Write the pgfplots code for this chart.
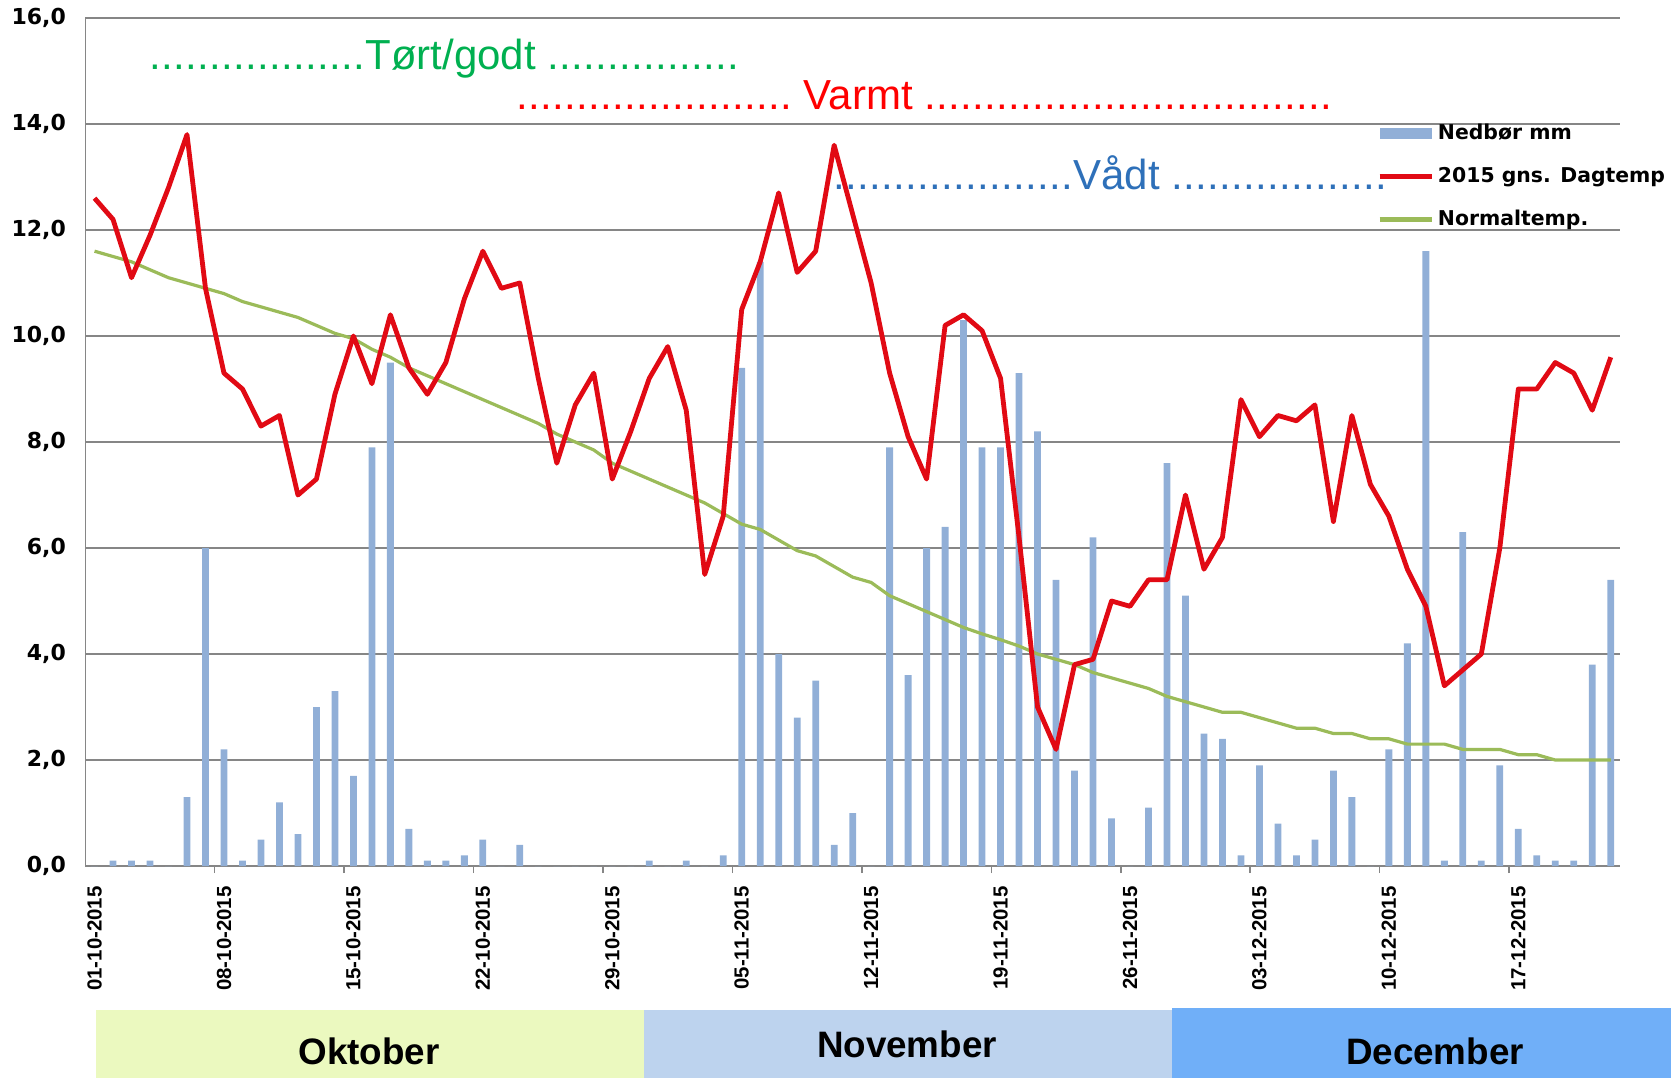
\documentclass[border=0pt]{standalone}
\usepackage{fontspec}
\usepackage{pgfplots}
\usepackage{pgfplotstable}
\pgfplotsset{compat=1.18}
\setmainfont{Liberation Sans}
\newfontfamily\dejavu{DejaVu Sans}
\definecolor{barblue}{RGB}{145,175,215}
\definecolor{tempred}{RGB}{225,10,20}
\definecolor{normgreen}{RGB}{155,187,89}
\definecolor{gridgray}{RGB}{134,134,134}
\definecolor{txtgreen}{RGB}{0,176,80}
\definecolor{txtred}{RGB}{255,0,0}
\definecolor{txtblue}{RGB}{46,112,185}
\definecolor{okt}{RGB}{235,249,191}
\definecolor{nov}{RGB}{189,211,238}
\definecolor{dec}{RGB}{112,175,248}
\newcommand{\dl}[1]{\cleaders\hbox to 6pt{\hss.\hss}\hskip #1\relax}
\pgfplotstableread{
day rain temp norm
0 0 12.6 11.6
1 0.1 12.2 11.5
2 0.1 11.1 11.4
3 0.1 11.9 11.25
4 0 12.8 11.1
5 1.3 13.8 11.0
6 6.0 10.9 10.9
7 2.2 9.3 10.8
8 0.1 9.0 10.65
9 0.5 8.3 10.55
10 1.2 8.5 10.45
11 0.6 7.0 10.35
12 3.0 7.3 10.2
13 3.3 8.9 10.05
14 1.7 10.0 9.95
15 7.9 9.1 9.75
16 9.5 10.4 9.6
17 0.7 9.4 9.4
18 0.1 8.9 9.25
19 0.1 9.5 9.1
20 0.2 10.7 8.95
21 0.5 11.6 8.8
22 0 10.9 8.65
23 0.4 11.0 8.5
24 0 9.2 8.35
25 0 7.6 8.15
26 0 8.7 8.0
27 0 9.3 7.85
28 0 7.3 7.6
29 0 8.2 7.45
30 0.1 9.2 7.3
31 0 9.8 7.15
32 0.1 8.6 7.0
33 0 5.5 6.85
34 0.2 6.6 6.65
35 9.4 10.5 6.45
36 11.4 11.4 6.35
37 4.0 12.7 6.15
38 2.8 11.2 5.95
39 3.5 11.6 5.85
40 0.4 13.6 5.65
41 1.0 12.3 5.45
42 0 11.0 5.35
43 7.9 9.3 5.1
44 3.6 8.1 4.95
45 6.0 7.3 4.8
46 6.4 10.2 4.65
47 10.3 10.4 4.5
48 7.9 10.1 4.38
49 7.9 9.2 4.27
50 9.3 6.2 4.15
51 8.2 3.0 4.0
52 5.4 2.2 3.9
53 1.8 3.8 3.8
54 6.2 3.9 3.65
55 0.9 5.0 3.55
56 0 4.9 3.45
57 1.1 5.4 3.35
58 7.6 5.4 3.2
59 5.1 7.0 3.1
60 2.5 5.6 3.0
61 2.4 6.2 2.9
62 0.2 8.8 2.9
63 1.9 8.1 2.8
64 0.8 8.5 2.7
65 0.2 8.4 2.6
66 0.5 8.7 2.6
67 1.8 6.5 2.5
68 1.3 8.5 2.5
69 0 7.2 2.4
70 2.2 6.6 2.4
71 4.2 5.6 2.3
72 11.6 4.9 2.3
73 0.1 3.4 2.3
74 6.3 3.7 2.2
75 0.1 4.0 2.2
76 1.9 6.0 2.2
77 0.7 9.0 2.1
78 0.2 9.0 2.1
79 0.1 9.5 2.0
80 0.1 9.3 2.0
81 3.8 8.6 2.0
82 5.4 9.6 2.0
}\datatable
\begin{document}
\begin{tikzpicture}
\useasboundingbox (-42.65pt,-106pt) rectangle (792.85pt,433pt);
\begin{axis}[
  at={(0pt,0pt)}, anchor=south west,
  scale only axis, width=767.35pt, height=424pt,
  xmin=-0.5, xmax=82.5, ymin=0, ymax=16,
  axis lines*=left,
  axis line style={gridgray, line width=0.75pt},
  ytick={0,2,...,16},
  ymajorgrids,
  grid style={gridgray, line width=0.75pt},
  tick style={gridgray, line width=0.75pt},
  major tick length=0pt,
  minor tick length=3.5pt,
  tick align=outside,
  xtick={0,7,...,77},
  xticklabels={01-10-2015,08-10-2015,15-10-2015,22-10-2015,29-10-2015,05-11-2015,12-11-2015,19-11-2015,26-11-2015,03-12-2015,10-12-2015,17-12-2015},
  minor xtick={6.5,13.5,...,76.5},
  xticklabel shift=10pt,
  xticklabel style={rotate=90, anchor=east, inner sep=0pt, font=\bfseries\fontsize{10.2}{12}\selectfont},
  yticklabel style={anchor=east, inner sep=0pt, xshift=-9.5pt, font=\dejavu\bfseries\fontsize{11}{13}\selectfont,
    /pgf/number format/.cd, fixed, fixed zerofill, precision=1, use comma, assume math mode=true},
  legend cell align=left,
  legend style={at={(rel axis cs:0.8415,0.88)}, anchor=north west, draw=none, fill=none,
    font=\dejavu\bfseries\fontsize{10.2}{12}\selectfont, row sep=8.3pt, inner sep=0pt},
]
\addplot[ybar, bar width=3.4pt, bar shift=0pt, fill=barblue, draw=none,
  legend image code/.code={\fill[barblue] (0pt,-2.8pt) rectangle (26pt,2.8pt);}]
  table[x=day, y=rain]{\datatable};
\addlegendentry{Nedbør mm}
\addplot[normgreen, line width=1.6pt, line join=round, forget plot] table[x=day, y=norm]{\datatable};
\addplot[tempred, line width=2.4pt, line join=round,
  legend image code/.code={\draw[tempred, line width=2.4pt] (0pt,0pt) -- (26pt,0pt);}]
  table[x=day, y=temp]{\datatable};
\addlegendentry{2015 gns. Dagtemp}
\addlegendimage{legend image code/.code={\draw[normgreen, line width=2.4pt] (0pt,0pt) -- (26pt,0pt);}}
\addlegendentry{Normaltemp.}
\node[anchor=base west, inner sep=0pt, text=txtgreen, font=\fontsize{21}{25}\selectfont] at (axis cs:2.94,15.02) {\dl{108pt}Tørt/godt \dl{96pt}\hbox{}};
\node[anchor=base west, inner sep=0pt, text=txtred, font=\fontsize{21}{25}\selectfont] at (axis cs:22.78,14.28) {\dl{138pt} Varmt \dl{204pt}\hbox{}};
\node[anchor=base west, inner sep=0pt, text=txtblue, font=\fontsize{21}{25}\selectfont] at (axis cs:39.93,12.77) {\dl{120pt}Vådt \dl{108pt}\hbox{}};
\end{axis}
\fill[okt] (5.35pt,-72pt) rectangle (279.35pt,-106pt);
\fill[nov] (279.35pt,-72pt) rectangle (543.35pt,-106pt);
\fill[dec] (543.35pt,-71pt) rectangle (792.85pt,-106pt);
\node[font=\bfseries\fontsize{18.4}{22}\selectfont] at (141.85pt,-92.5pt) {Oktober};
\node[font=\bfseries\fontsize{18.4}{22}\selectfont] at (410.85pt,-89pt) {November};
\node[font=\bfseries\fontsize{18.4}{22}\selectfont] at (674.85pt,-92.5pt) {December};
\end{tikzpicture}
\end{document}
